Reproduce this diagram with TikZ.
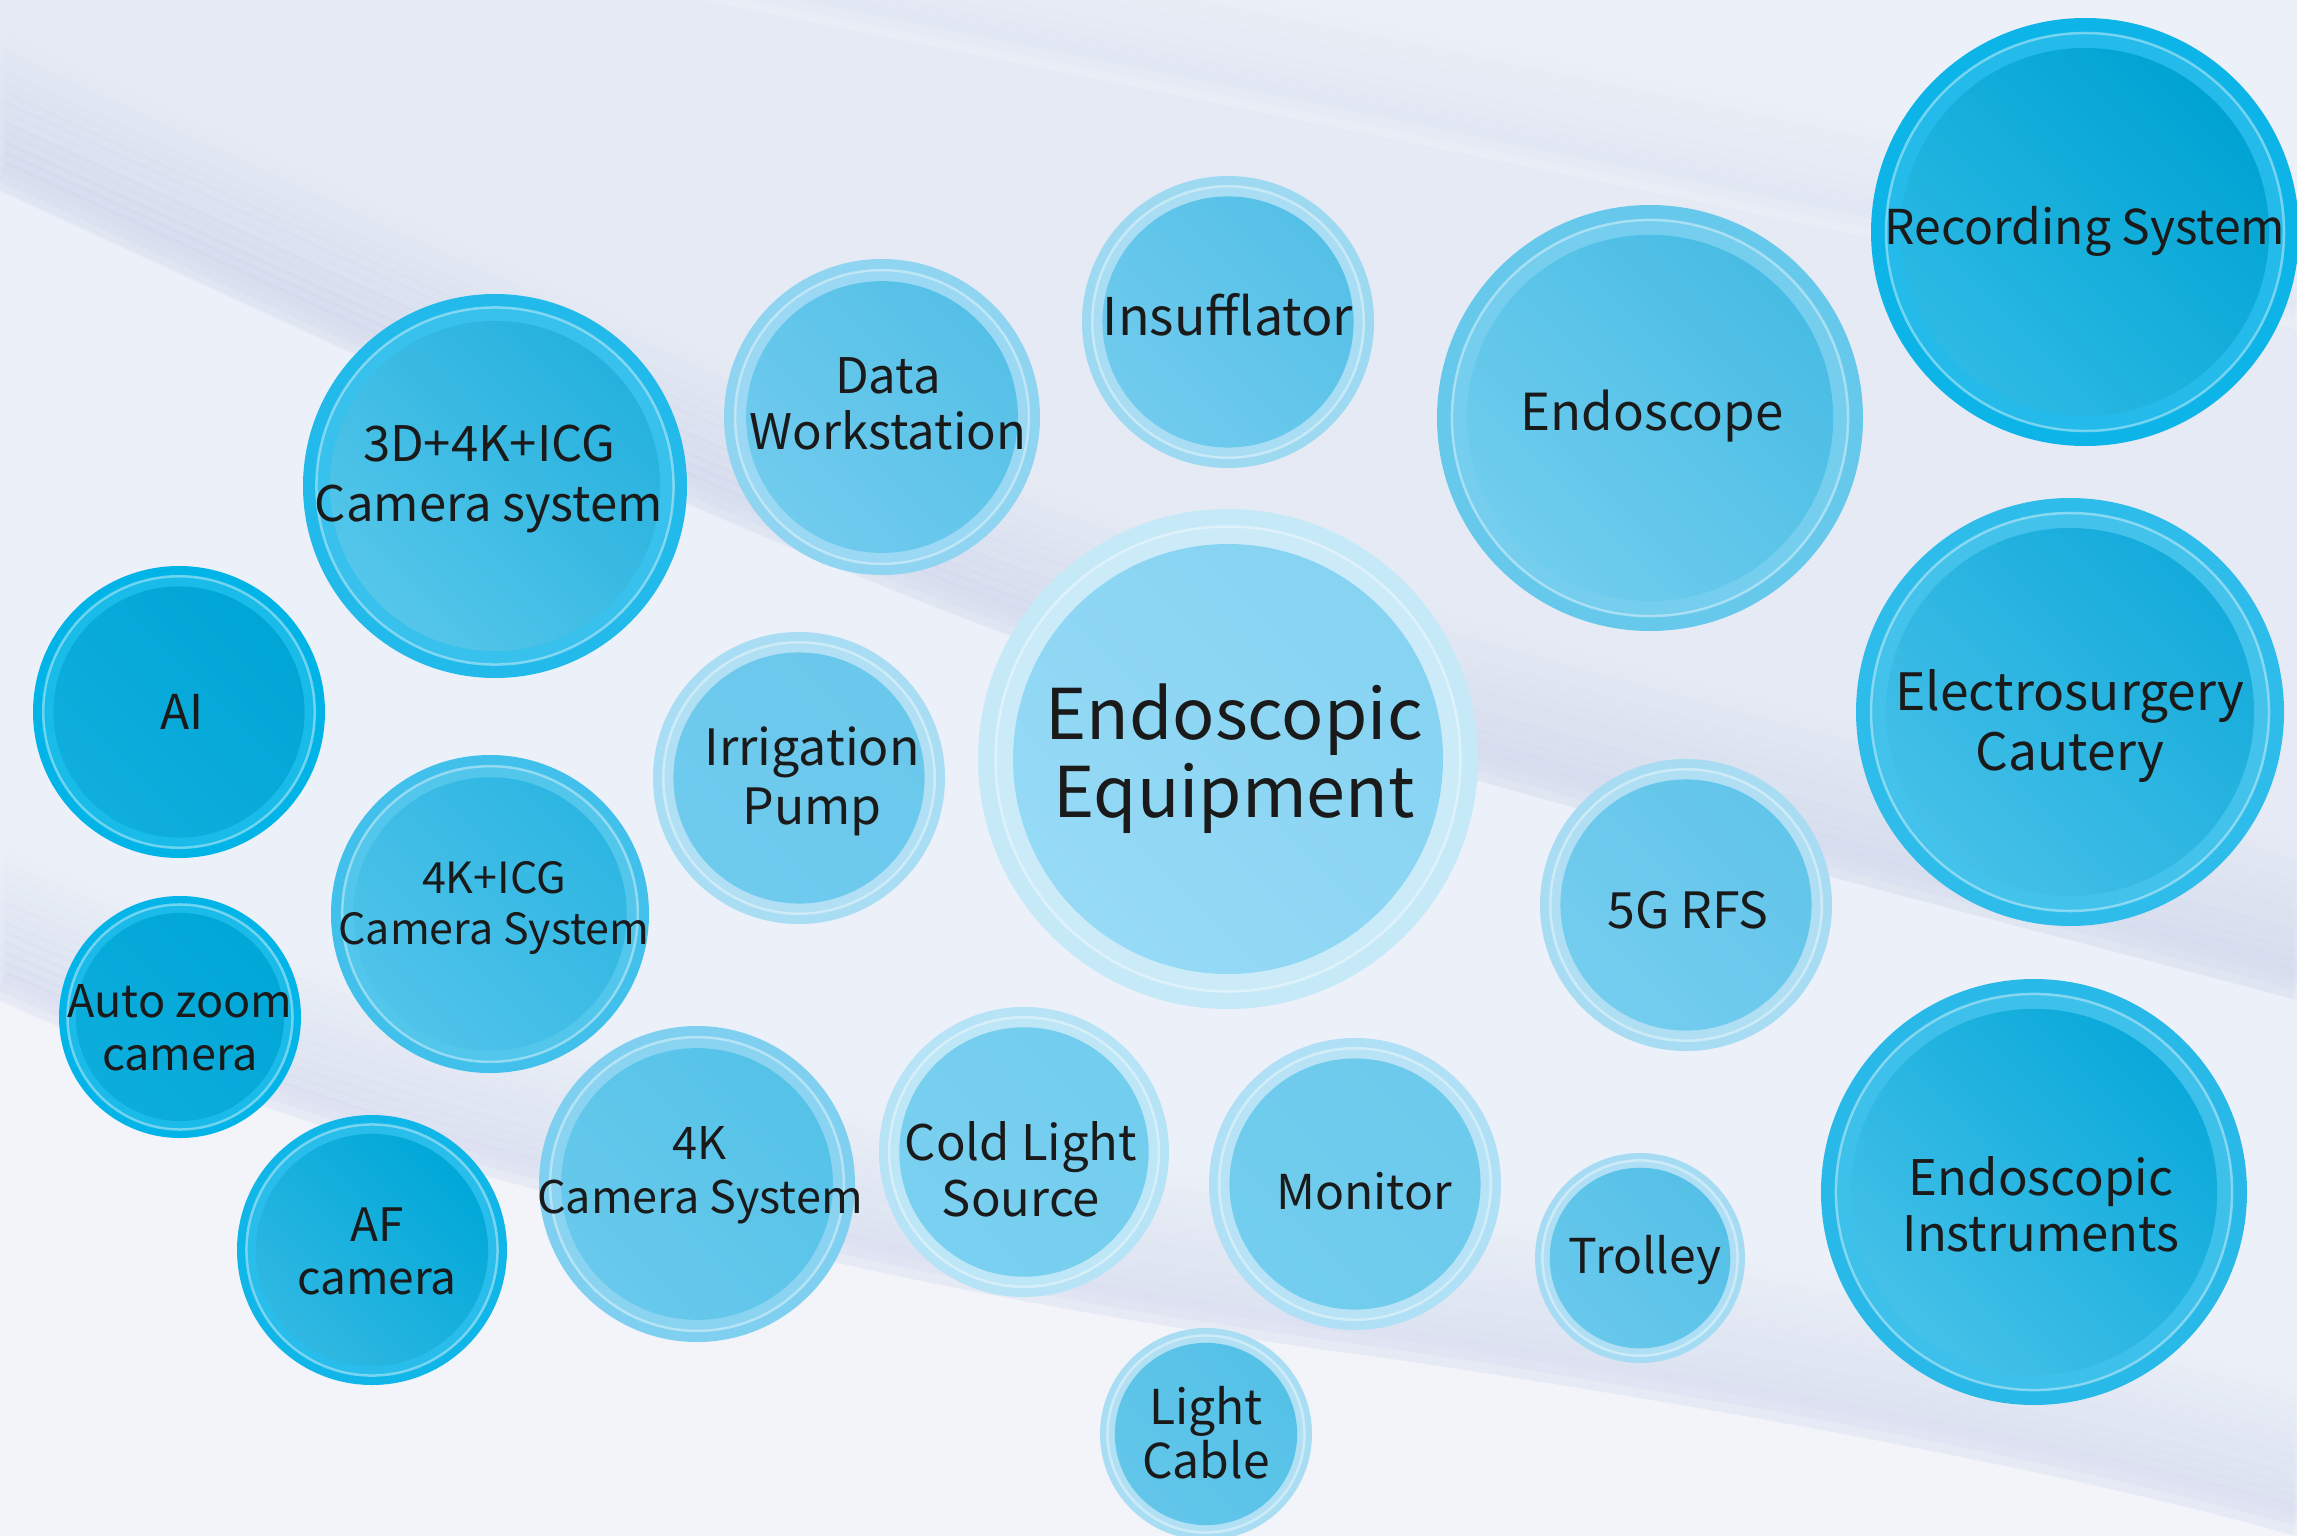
\documentclass[tikz,border=0pt]{standalone}
\usepackage{fontspec}
\setmainfont{Noto Sans CJK SC}
\definecolor{bgbase}{HTML}{E5EAF5}
\definecolor{lilac}{HTML}{B8C2E2}
\definecolor{txt}{HTML}{1A1A1A}
\newcommand\fs[2]{\fontsize{#1pt}{#2pt}\selectfont}
\newcommand\bub[7]{%
  \definecolor{r#1}{HTML}{#5}\definecolor{a#1}{HTML}{#6}\definecolor{b#1}{HTML}{#7}%
  \fill[r#1] (#2,#3) circle[radius=#4pt];
  \fill[r#1!90!white] (#2,#3) circle[radius=0.93*#4pt];
  \draw[white,opacity=.4,line width=2.5pt] (#2,#3) circle[radius=0.93*#4pt];
  \shade[top color=a#1,bottom color=b#1,shading angle=-45] (#2,#3) circle[radius=0.86*#4pt];
}
\tikzset{lbl/.style={align=center,text=txt,inner sep=0pt}}
\begin{document}
\begin{tikzpicture}[x=1pt,y=-1pt]
\useasboundingbox (0,0) rectangle (2297,1536);
\clip (0,0) rectangle (2297,1536);
% ---- background ----
\fill[bgbase] (0,0) rectangle (2297,1536);
\fill[white,opacity=.3] (700,0) .. controls (1200,100) and (1800,220) .. (2297,330) -- (2297,0) -- cycle;
\foreach \k in {0,...,9}{
  \pgfmathsetmacro\op{0.06*(1-\k/10)}
  \draw[lilac,opacity=\op,line width=30pt,shift={(0,-15-10*\k)}]
    (700,0) .. controls (1200,100) and (1800,220) .. (2297,330);
}
% band between edge 1 and edge 2
\fill[white,opacity=.3] (0,190) .. controls (500,420) and (900,610) .. (1200,700)
   .. controls (1600,820) and (2000,920) .. (2297,1000) -- (2297,1536)
   .. controls (2100,1480) and (1800,1420) .. (1400,1360) .. controls (1100,1320) and (900,1280) .. (700,1230)
   .. controls (400,1160) and (200,1090) .. (0,1000) -- cycle;
\foreach \k in {0,...,13}{
  \pgfmathsetmacro\op{0.11*(1-\k/14)}
  \draw[lilac,opacity=\op,line width=30pt,shift={(0,-15-10*\k)}]
    (0,190) .. controls (500,420) and (900,610) .. (1200,700)
   .. controls (1600,820) and (2000,920) .. (2297,1000);
}
% below edge 2
\fill[white,opacity=.5] (0,1000) .. controls (200,1090) and (400,1160) .. (700,1230)
   .. controls (900,1280) and (1100,1320) .. (1400,1360) .. controls (1800,1420) and (2100,1480) .. (2297,1536)
   -- (0,1536) -- cycle;
\foreach \k in {0,...,13}{
  \pgfmathsetmacro\op{0.11*(1-\k/14)}
  \draw[lilac,opacity=\op,line width=30pt,shift={(0,-15-10*\k)}]
    (0,1000) .. controls (200,1090) and (400,1160) .. (700,1230)
   .. controls (900,1280) and (1100,1320) .. (1400,1360)
   .. controls (1800,1420) and (2100,1480) .. (2297,1536);
}
% ---- bubbles ----
\bub{rec}{2085}{232}{214}{0CB4E8}{00A3D3}{2DBAE4}
\bub{endo}{1650}{418}{213}{66C9EC}{48BCE4}{70CDEE}
\bub{insuf}{1228}{322}{146}{9ED9F2}{55C0E7}{70CBEE}
\bub{dataw}{882}{417}{158}{8FD4F1}{55C0E7}{70CBEE}
\bub{camtd}{495}{486}{192}{22BAEA}{25B1DE}{55C6EA}
\bub{ai}{179}{712}{146}{00B4E7}{00A6D6}{10AEDD}
\bub{irr}{799}{778}{146}{A8DDF4}{6AC8EC}{6FCBEE}
\bub{ee}{1228}{759}{250}{C6E9F8}{86D3F2}{96DAF6}
\bub{elec}{2070}{712}{214}{2EBCEA}{14ABDB}{45C0E8}
\bub{gfive}{1686}{905}{146}{A7DCF3}{62C5EA}{74CDEF}
\bub{camicg}{490}{914}{159}{40C0EA}{2DB6E2}{50C3EA}
\bub{auto}{180}{1017}{121}{02B4E7}{00A7D7}{0CADDC}
\bub{af}{372}{1250}{135}{10B6E8}{00A8D8}{30B8E2}
\bub{camfk}{697}{1184}{158}{7ECFF0}{55C2E8}{68C9EC}
\bub{cold}{1024}{1152}{145}{B6E3F5}{72CDEE}{7AD0F0}
\bub{mon}{1355}{1184}{146}{B0E0F5}{6CCAEC}{72CDEE}
\bub{trol}{1640}{1258}{105}{A6DCF3}{55C0E7}{68C8EC}
\bub{instr}{2034}{1192}{213}{28B9E8}{0AA9DA}{45C1E8}
\bub{light}{1206}{1434}{106}{A8DDF3}{55C1E7}{62C6EA}
% ---- labels ----
\node[lbl,font=\fs{70}{78}] (tee) at (1234,759) {Endoscopic\\Equipment};
\node[lbl,font=\fs{48}{56}] (trec) at (2085,231) {Recording System};
\node[lbl,font=\fs{51}{58}] (tendo) at (1652,416) {Endoscope};
\node[lbl,font=\fs{52}{58}] (tinsuf) at (1228,315) {Insufflator};
\node[lbl,font=\fs{49}{56}] (tdataw) at (888,404) {Data\\Workstation};
\node[lbl,font=\fs{49}{60}] (tcamtd) at (489,479) {3D+4K+ICG\\Camera system};
\node[lbl,font=\fs{48}{54}] (tai) at (182,712) {AI};
\node[lbl,font=\fs{50}{59}] (tirr) at (812,781) {Irrigation\\Pump};
\node[lbl,font=\fs{51.5}{60}] (telec) at (2070,726) {Electrosurgery\\Cautery};
\node[lbl,font=\fs{50}{58}] (tgfive) at (1688,910) {5G RFS};
\node[lbl,font=\fs{43}{51}] (tcamicg) at (494,908) {4K+ICG\\Camera System};
\node[lbl,font=\fs{45}{53}] (tauto) at (180,1028) {Auto zoom\\camera};
\node[lbl,font=\fs{46}{53}] (taf) at (377,1251) {AF\\camera};
\node[lbl,font=\fs{45}{54}] (tcamfk) at (700,1175) {4K\\Camera System};
\node[lbl,font=\fs{49}{56}] (tcold) at (1021,1169) {Cold Light\\Source};
\node[lbl,font=\fs{48}{56}] (tmon) at (1364,1191) {Monitor};
\node[lbl,font=\fs{48}{56}] (ttrol) at (1645,1260) {Trolley};
\node[lbl,font=\fs{49}{56}] (tinstr) at (2041,1204) {Endoscopic\\Instruments};
\node[lbl,font=\fs{48}{54}] (tlight) at (1206,1433) {Light\\Cable};
\end{tikzpicture}
\end{document}
